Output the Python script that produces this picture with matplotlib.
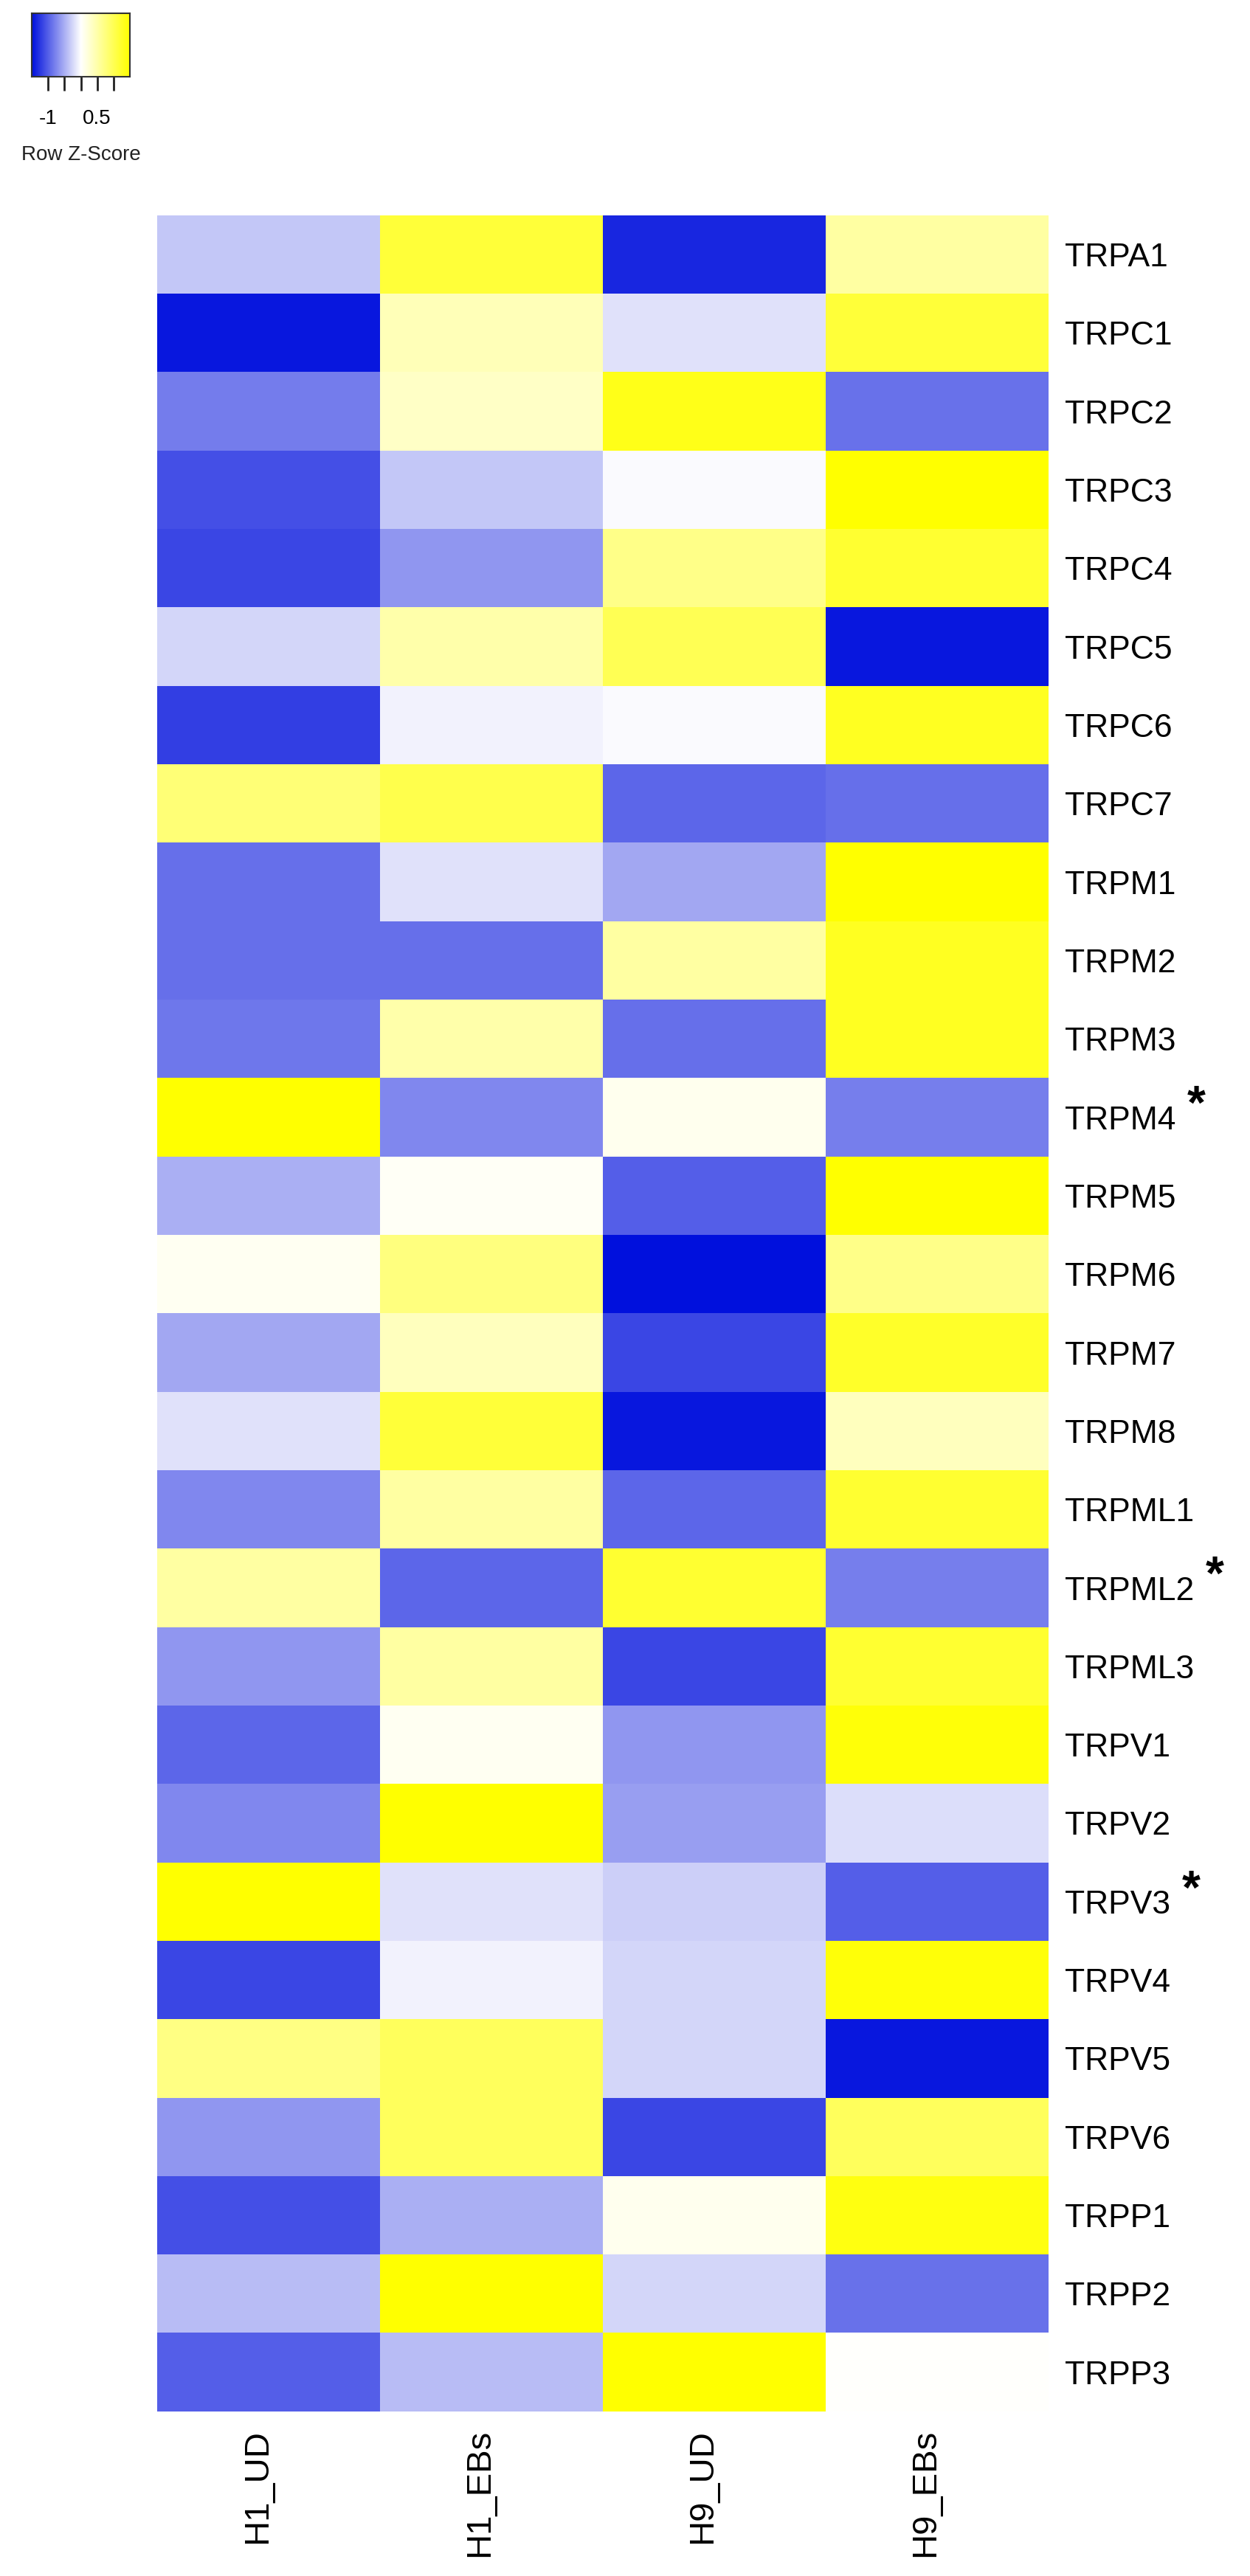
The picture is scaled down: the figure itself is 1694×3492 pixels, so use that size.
import numpy as np
import matplotlib
matplotlib.use('Agg')
import matplotlib.pyplot as plt
from matplotlib.colors import LinearSegmentedColormap
import matplotlib.transforms as mtransforms

plt.rcParams['font.family'] = ['Liberation Sans', 'DejaVu Sans']

samples = ['H1_UD', 'H1_EBs', 'H9_UD', 'H9_EBs']
genes = ['TRPA1', 'TRPC1', 'TRPC2', 'TRPC3', 'TRPC4', 'TRPC5', 'TRPC6', 'TRPC7',
         'TRPM1', 'TRPM2', 'TRPM3', 'TRPM4', 'TRPM5', 'TRPM6', 'TRPM7', 'TRPM8',
         'TRPML1', 'TRPML2', 'TRPML3', 'TRPV1', 'TRPV2', 'TRPV3', 'TRPV4', 'TRPV5',
         'TRPV6', 'TRPP1', 'TRPP2', 'TRPP3']
starred = ['TRPM4', 'TRPML2', 'TRPV3']

# row z-scores, columns in order of samples
h1_ud = [-0.35, -1.45, -0.82, -1.10, -1.15, -0.25, -1.20, 0.80,
         -0.90, -0.90, -0.85, 1.50, -0.50, 0.08, -0.55, -0.18,
         -0.75, 0.55, -0.65, -0.95, -0.75, 1.50, -1.15, 0.72,
         -0.65, -1.10, -0.42, -1.00]
h1_ebs = [1.15, 0.42, 0.33, -0.35, -0.65, 0.50, -0.08, 1.05,
          -0.18, -0.90, 0.50, -0.75, 0.05, 0.75, 0.38, 1.15,
          0.55, -0.95, 0.55, 0.08, 1.50, -0.18, -0.08, 0.95,
          0.95, -0.50, 1.50, -0.42]
h9_ud = [-1.35, -0.18, 1.35, -0.03, 0.70, 1.00, -0.03, -0.95,
         -0.55, 0.55, -0.90, 0.10, -1.00, -1.50, -1.15, -1.45,
         -0.95, 1.20, -1.15, -0.65, -0.60, -0.30, -0.25, -0.25,
         -1.15, 0.10, -0.25, 1.50]
h9_ebs = [0.55, 1.15, -0.88, 1.50, 1.20, -1.45, 1.30, -0.90,
          1.50, 1.30, 1.30, -0.80, 1.50, 0.70, 1.25, 0.38,
          1.20, -0.80, 1.20, 1.45, -0.20, -1.00, 1.45, -1.45,
          0.95, 1.40, -0.88, 0.02]

values = np.column_stack([h1_ud, h1_ebs, h9_ud, h9_ebs])

cmap = LinearSegmentedColormap.from_list('bwy', ['#0010DD', '#FFFFFF', '#FFFF00'], N=256)
vmin, vmax = -1.5, 1.5

fig = plt.figure(figsize=(16.94, 34.92), dpi=100)

# main heatmap
ax = fig.add_axes([0.1257, 0.0639, 0.7126, 0.8525])
ax.imshow(values, cmap=cmap, vmin=vmin, vmax=vmax, aspect='auto',
          interpolation='nearest')
ax.set_xlim(-0.5, len(samples) - 0.5)
ax.set_ylim(len(genes) - 0.5, -0.5)
ax.set_xticks([])
ax.set_yticks([])
for s in ax.spines.values():
    s.set_visible(False)

# row labels (right side)
trans_r = mtransforms.blended_transform_factory(ax.transAxes, ax.transData)
for i, g in enumerate(genes):
    t = ax.text(1.019, i, g, transform=trans_r, ha='left', va='center_baseline',
                fontsize=32, color='black')
    if g in starred:
        ax.annotate('*', xy=(1, 0.5), xycoords=t, xytext=(11, -8),
                    textcoords='offset points', ha='left', va='bottom',
                    fontsize=46, fontweight='bold', color='black')

# column labels (bottom, rotated)
trans_c = mtransforms.blended_transform_factory(ax.transData, ax.transAxes)
for j, s in enumerate(samples):
    ax.text(j - 0.05, -0.008, s, transform=trans_c, rotation=90,
            ha='center', va='top', fontsize=34, color='black')

# colour key
cax = fig.add_axes([0.0254, 0.97022, 0.0785, 0.02463])
grad = np.linspace(vmin, vmax, 256).reshape(1, -1)
cax.imshow(grad, cmap=cmap, vmin=vmin, vmax=vmax, aspect='auto',
           extent=[vmin, vmax, 0, 1])
cax.set_xlim(vmin, vmax)
cax.set_yticks([])
cax.set_xticks([-1, -0.5, 0, 0.5, 1])
cax.set_xticklabels(['-1', '', '', '0.5', ''])
cax.tick_params(axis='x', length=14, width=2, pad=18, labelsize=20,
                color='#222222', direction='out')
for s in cax.spines.values():
    s.set_linewidth(1.5)
    s.set_color('#333333')
fig.text(110 / 1694, 1 - 210 / 3492, 'Row Z-Score', ha='center', va='center',
         fontsize=20, color='#222222')

fig.savefig('out.png', dpi=100)
